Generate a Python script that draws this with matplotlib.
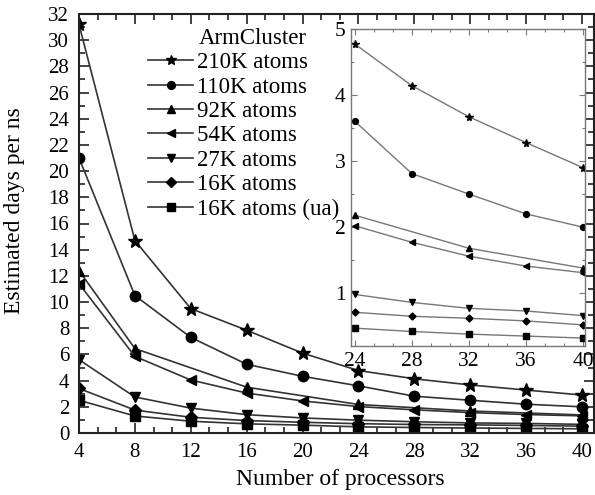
import matplotlib
matplotlib.use('Agg')
import matplotlib.pyplot as plt
from matplotlib.ticker import MultipleLocator, AutoMinorLocator

# processors
procs = [4, 8, 12, 16, 20, 24, 28, 32, 36, 40]
procs_92k = [4, 8, 16, 24, 32, 40]

# estimated days per ns
days_210k = [31.2, 14.7, 9.5, 7.85, 6.1, 4.77, 4.14, 3.67, 3.28, 2.9]
days_110k = [21.0, 10.5, 7.3, 5.25, 4.33, 3.6, 2.81, 2.5, 2.2, 2.0]
days_92k = [12.4, 6.45, 3.5, 2.18, 1.68, 1.38]
days_54k = [11.4, 5.85, 4.05, 3.05, 2.45, 2.02, 1.77, 1.56, 1.41, 1.31]
days_27k = [5.6, 2.75, 1.9, 1.4, 1.15, 0.98, 0.86, 0.77, 0.73, 0.66]
days_16k = [3.4, 1.75, 1.2, 0.95, 0.82, 0.71, 0.65, 0.62, 0.58, 0.52]
days_16k_ua = [2.5, 1.3, 0.9, 0.7, 0.6, 0.47, 0.42, 0.38, 0.35, 0.32]

series = [
    ("210K atoms", procs, days_210k, "*"),
    ("110K atoms", procs, days_110k, "o"),
    ("92K atoms", procs_92k, days_92k, "^"),
    ("54K atoms", procs, days_54k, "<"),
    ("27K atoms", procs, days_27k, "v"),
    ("16K atoms", procs, days_16k, "D"),
    ("16K atoms (ua)", procs, days_16k_ua, "s"),
]
marker_scale = {"*": 1.35, "o": 1.0, "^": 1.0, "<": 1.0, "v": 1.0, "D": 0.85, "s": 0.9}

plt.rcParams['font.family'] = ['Liberation Serif', 'DejaVu Serif']

W, H = 595, 495
fig = plt.figure(figsize=(W / 100, H / 100), dpi=100)

# main axes
ax = fig.add_axes([79 / W, 1 - 433 / H, (594 - 79) / W, (433 - 14) / H])
for label, xs, ys, m in series:
    ax.plot(xs, ys, color="#333333", linewidth=1.2, marker=m,
            markersize=7.5 * marker_scale[m], markerfacecolor="black",
            markeredgecolor="black", label=label)

ax.set_xlim(4, 40.86)
ax.set_ylim(0, 32)
ax.xaxis.set_major_locator(MultipleLocator(4))
ax.xaxis.set_minor_locator(AutoMinorLocator(3))
ax.yaxis.set_major_locator(MultipleLocator(2))
ax.yaxis.set_minor_locator(MultipleLocator(1))
ax.tick_params(which="both", direction="in", top=True, right=True,
               labelsize=15, width=1.2, color="#222222")
ax.tick_params(which="major", length=7, pad=7)
ax.tick_params(which="minor", length=4)
for sp in ax.spines.values():
    sp.set_linewidth(1.5)
    sp.set_color("#222222")
ax.set_xlabel("Number of processors", fontsize=17)
ax.set_ylabel("Estimated days per ns", fontsize=17)
ax.xaxis.set_label_coords((340 - 79) / 515, (433 - 469) / 419)
ax.yaxis.set_label_coords((25 - 79) / 515, (433 - 211) / 419)

ax.legend(loc="upper left", bbox_to_anchor=(148 / W, 1 - 52 / H),
          bbox_transform=fig.transFigure, frameon=False, fontsize=16.5,
          handlelength=1.97, handletextpad=0.17, labelspacing=0.15,
          borderpad=0, borderaxespad=0, markerscale=0.75)
fig.text(199 / W, 1 - 38 / H, "ArmCluster", fontsize=16.5, ha="left", va="center")

# inset axes
ins = fig.add_axes([351 / W, 1 - 346 / H, (585 - 351) / W, (346 - 29) / H])
for label, xs, ys, m in series:
    sel = [(x, y) for x, y in zip(xs, ys) if x >= 24]
    ins.plot([p[0] for p in sel], [p[1] for p in sel], color="#777777",
             linewidth=1.0, marker=m, markersize=4.2 * marker_scale[m],
             markerfacecolor="black", markeredgecolor="black")
ins.set_xlim(23.72, 40.14)
ins.set_ylim(0.2, 5)
ins.xaxis.set_major_locator(MultipleLocator(4))
ins.xaxis.set_minor_locator(AutoMinorLocator(3))
ins.yaxis.set_major_locator(MultipleLocator(1))
ins.yaxis.set_minor_locator(MultipleLocator(0.5))
ins.tick_params(which="both", direction="in", top=True, right=True,
                labelsize=15.5, width=0.8, color="#777777", pad=4)
ins.tick_params(which="major", length=4)
ins.tick_params(which="minor", length=2)
for sp in ins.spines.values():
    sp.set_linewidth(1.0)
    sp.set_color("#777777")

fig.savefig("out.png", dpi=100)
